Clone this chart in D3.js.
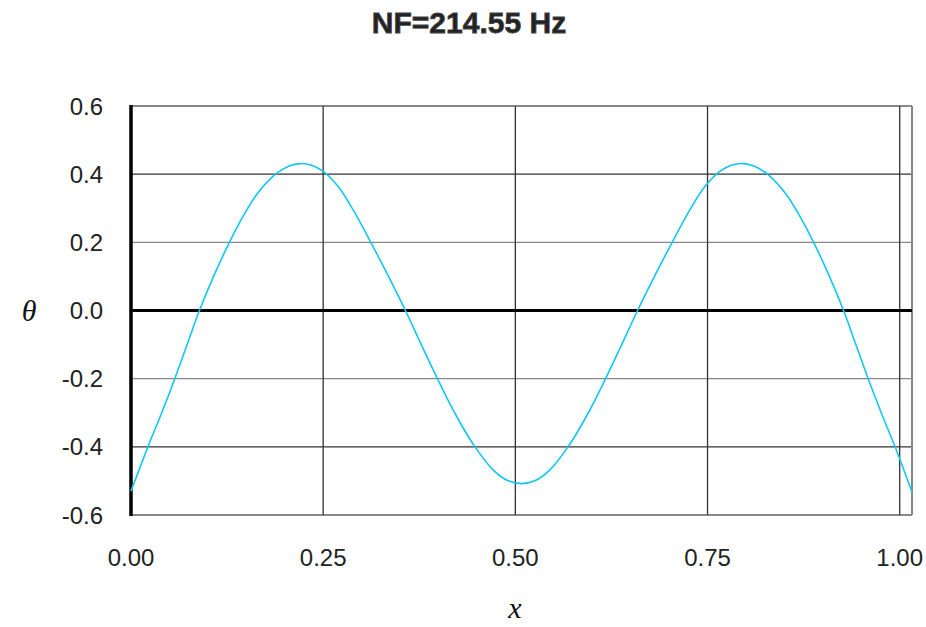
<!DOCTYPE html>
<html>
<head>
<meta charset="utf-8">
<script src="https://cdn.jsdelivr.net/npm/d3@7"></script>
<style>
  body { margin: 0; background: #fff; }
  svg text { font-family: "Liberation Sans", Arial, sans-serif; }
</style>
</head>
<body>
<div id="graph"></div>
<script>

var title = "NF=214.55 Hz";

// mode shape
var xs = [0.000, 0.022, 0.040, 0.057, 0.073, 0.089, 0.108, 0.128, 0.148, 0.165,
          0.187, 0.205, 0.220, 0.235, 0.250, 0.270, 0.289, 0.312, 0.335, 0.357,
          0.377, 0.398, 0.421, 0.446, 0.472, 0.490, 0.508, 0.526, 0.544, 0.570,
          0.595, 0.618, 0.639, 0.659, 0.681, 0.704, 0.727, 0.746, 0.766, 0.781,
          0.796, 0.811, 0.829, 0.851, 0.868, 0.888, 0.908, 0.927, 0.943, 0.959,
          0.976, 0.994, 1.016];
var theta = [-0.530, -0.400, -0.300, -0.200, -0.100, 0.000, 0.103, 0.200, 0.285, 0.345,
             0.398, 0.423, 0.431, 0.426, 0.408, 0.362, 0.295, 0.200, 0.100, 0.000,
             -0.097, -0.197, -0.300, -0.395, -0.470, -0.499, -0.508, -0.499, -0.470, -0.395,
             -0.300, -0.197, -0.097, 0.000, 0.100, 0.200, 0.295, 0.362, 0.408, 0.426,
             0.431, 0.423, 0.398, 0.345, 0.285, 0.200, 0.103, 0.000, -0.100, -0.200,
             -0.300, -0.400, -0.533];

var xTicks = [0, 0.25, 0.5, 0.75, 1.0];
var yTicks = [-0.6, -0.4, -0.2, 0, 0.2, 0.4, 0.6];

function setup() {
    var size = {width: 926, height: 627};
    var m = {left: 131, right: 14, top: 106, bottom: 112};

    var svg = d3.select("#graph")
                .append("svg")
                .attr("width", size.width)
                .attr("height", size.height);

    var x = d3.scaleLinear()
              .domain([0, 1.016])
              .range([m.left, size.width - m.right]);
    var y = d3.scaleLinear()
              .domain([-0.6, 0.6])
              .range([size.height - m.bottom, m.top]);

    // grid
    svg.append("g")
       .selectAll("line")
       .data(yTicks.filter((d) => d != 0))
       .enter()
       .append("line")
       .attr("x1", x(0))
       .attr("x2", x.range()[1])
       .attr("y1", (d) => y(d))
       .attr("y2", (d) => y(d))
       .attr("stroke", (d) => Math.abs(Math.abs(d) - 0.4) < 1e-6 ? "#333" : "#888")
       .attr("stroke-width", (d) => Math.abs(d) == 0.6 ? 2 : 1.3);

    svg.append("g")
       .selectAll("line")
       .data(xTicks.filter((d) => d > 0))
       .enter()
       .append("line")
       .attr("x1", (d) => x(d))
       .attr("x2", (d) => x(d))
       .attr("y1", y(0.6))
       .attr("y2", y(-0.6))
       .attr("stroke", "#333")
       .attr("stroke-width", 1.3);

    // right border
    svg.append("line")
       .attr("x1", x.range()[1]).attr("x2", x.range()[1])
       .attr("y1", y(0.6)).attr("y2", y(-0.6))
       .attr("stroke", "#888").attr("stroke-width", 2);

    // zero line and left axis
    svg.append("line")
       .attr("x1", x(0)).attr("x2", x.range()[1])
       .attr("y1", y(0)).attr("y2", y(0))
       .attr("stroke", "#000").attr("stroke-width", 3);
    svg.append("line")
       .attr("x1", x(0)).attr("x2", x(0))
       .attr("y1", y(0.6) - 1).attr("y2", y(-0.6) + 1)
       .attr("stroke", "#000").attr("stroke-width", 3.5);

    // curve
    var pts = xs.map((d, i) => [d, theta[i]]);
    svg.append("path")
       .datum(pts)
       .attr("fill", "none")
       .attr("stroke", "#10c8f2")
       .attr("stroke-width", 1.6)
       .attr("d", d3.line()
                    .x((d) => x(d[0]))
                    .y((d) => y(d[1]))
                    .curve(d3.curveCatmullRom.alpha(0.5)));

    // tick labels
    svg.append("g")
       .selectAll("text")
       .data(yTicks)
       .enter()
       .append("text")
       .attr("x", 103)
       .attr("y", (d) => y(d) + 8.5)
       .attr("text-anchor", "end")
       .attr("font-size", 24)
       .attr("fill", "#222")
       .text((d) => d.toFixed(1));

    svg.append("g")
       .selectAll("text")
       .data(xTicks)
       .enter()
       .append("text")
       .attr("x", (d) => x(d))
       .attr("y", 566)
       .attr("text-anchor", "middle")
       .attr("font-size", 24)
       .attr("fill", "#222")
       .text((d) => d.toFixed(2));

    // axis titles
    svg.append("text")
       .attr("x", 29)
       .attr("y", 321)
       .attr("text-anchor", "middle")
       .attr("font-size", 30)
       .attr("font-style", "italic")
       .style("font-family", "'Liberation Serif', 'DejaVu Serif', serif")
       .attr("fill", "#111")
       .text("θ");
    svg.append("text")
       .attr("x", 515)
       .attr("y", 618)
       .attr("text-anchor", "middle")
       .attr("font-size", 30)
       .attr("font-style", "italic")
       .style("font-family", "'Liberation Serif', 'DejaVu Serif', serif")
       .attr("fill", "#111")
       .text("x");

    svg.append("text")
       .attr("x", 469)
       .attr("y", 33)
       .attr("text-anchor", "middle")
       .attr("font-size", 30)
       .attr("font-weight", "bold")
       .attr("fill", "#222")
       .attr("stroke", "#444")
       .attr("stroke-width", 0.8)
       .text(title);
}

window.addEventListener('load', setup)
</script>
</body>
</html>
